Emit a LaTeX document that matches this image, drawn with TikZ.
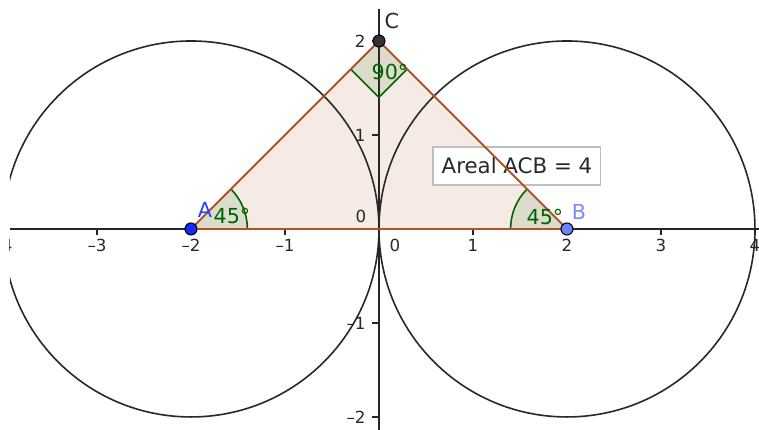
\documentclass[tikz,border=0pt]{standalone}
\usepackage{fontspec}
\setmainfont{DejaVu Sans}
\usetikzlibrary{calc}
\definecolor{ggreen}{RGB}{0,100,0}
\definecolor{tribrown}{RGB}{178,82,42}
\definecolor{trifill}{RGB}{246,234,229}
\definecolor{circcol}{RGB}{40,40,40}
\definecolor{ptA}{RGB}{20,40,255}
\definecolor{ptB}{RGB}{110,130,255}
\definecolor{ptC}{RGB}{50,50,50}
\definecolor{labA}{RGB}{40,60,255}
\definecolor{labB}{RGB}{120,140,255}
\definecolor{labtxt}{RGB}{40,40,40}
\tikzset{
  axislab/.style={font=\fontsize{12.5}{14}\selectfont, text=labtxt, inner sep=0pt},
  anglab/.style={font=\fontsize{15.5}{17}\selectfont, text=ggreen, inner sep=0pt},
  ptlab/.style={font=\fontsize{15.5}{17}\selectfont, inner sep=0pt},
  ptdot/.style={circle, draw=black, line width=0.8pt, minimum size=9pt, inner sep=0pt},
  axisline/.style={line width=1.2pt, draw=black!85},
  circline/.style={line width=1.2pt, draw=circcol},
  triline/.style={line width=1.4pt, draw=tribrown, line join=round},
  angfill/.style={fill=ggreen, fill opacity=0.1},
  angline/.style={line width=1.2pt, draw=ggreen},
  areabox/.style={draw=black!25, fill=white, line width=0.8pt, minimum width=126pt, minimum height=28.5pt, font=\fontsize{16}{18}\selectfont, text=labtxt}
}
\begin{document}
\begin{tikzpicture}[x=70.5pt,y=70.5pt]
\useasboundingbox (-4.032,-2.138) rectangle (4.043,2.436);
\coordinate (A) at (-2,0);
\coordinate (B) at (2,0);
\coordinate (C) at (0,2);
\coordinate (O) at (0,0);
\begin{scope}
\clip (-3.926,-2.138) rectangle (4.043,2.436);
% triangle fill
\fill[trifill] (A) -- (B) -- (C) -- cycle;
% circles
\draw[circline] (-2,0) circle[radius=2];
\draw[circline] (2,0) circle[radius=2];
% axes
\coordinate (xl) at (-3.926,0);
\coordinate (xr) at (4.043,0);
\coordinate (yb) at (0,-2.138);
\coordinate (yt) at (0,2.340);
\draw[axisline] (xl) -- (xr);
\draw[axisline] (yb) -- (yt);
% ticks and labels x
\foreach \x/\t in {-4/–4,-3/–3,-2/–2,-1/–1,1/1,2/2,3/3,4/4}{
  \draw[axisline] (\x,0) -- (\x,-0.06);
  \node[axislab] (xlab\x) at (\x,-0.175) {\t};
}
\foreach \y/\t in {-2/–2,-1/–1,1/1,2/2}{
  \draw[axisline] (0,\y) -- (-0.07,\y);
  \node[axislab, anchor=east] (ylab\y) at (-0.14,\y) {\t};
}
\node[axislab] (zero1) at (-0.191,0.138) {0};
\node[axislab] (zero2) at (0.170,-0.170) {0};
% angle sectors
\fill[angfill] (A) -- ++(0:0.6) arc[start angle=0, end angle=45, radius=0.6] -- cycle;
\draw[angline] ($(A)+(0.6,0)$) arc[start angle=0, end angle=45, radius=0.6];
\fill[angfill] (B) -- ++(180:0.6) arc[start angle=180, end angle=135, radius=0.6] -- cycle;
\draw[angline] ($(B)+(-0.6,0)$) arc[start angle=180, end angle=135, radius=0.6];
\coordinate (sqL) at (-0.3,1.7);
\coordinate (sqB) at (0,1.4);
\coordinate (sqR) at (0.3,1.7);
\fill[angfill] (C) -- (sqL) -- (sqB) -- (sqR) -- cycle;
\draw[angline, line join=miter] (sqL) -- (sqB) -- (sqR);
% area box
\node[areabox] (area) at (1.468,0.670) {Areal ACB = 4};
% triangle stroke
\draw[triline] (A) -- (B) -- (C) -- cycle;
% angle labels
\node[anglab] (angA) at (-1.564,0.138) {45°};
\node[anglab] (angB) at (1.766,0.128) {45°};
\node[anglab] (angC) at (0.117,1.670) {90°};
% points
\node[ptdot, fill=ptA] (pA) at (A) {};
\node[ptdot, fill=ptB] (pB) at (B) {};
\node[ptdot, fill=ptC] (pC) at (C) {};
\node[ptlab, text=labA] (lA) at (-1.851,0.202) {A};
\node[ptlab, text=labB] (lB) at (2.128,0.181) {B};
\node[ptlab, text=labtxt] (lC) at (0.138,2.213) {C};
\end{scope}
\end{tikzpicture}
\end{document}
